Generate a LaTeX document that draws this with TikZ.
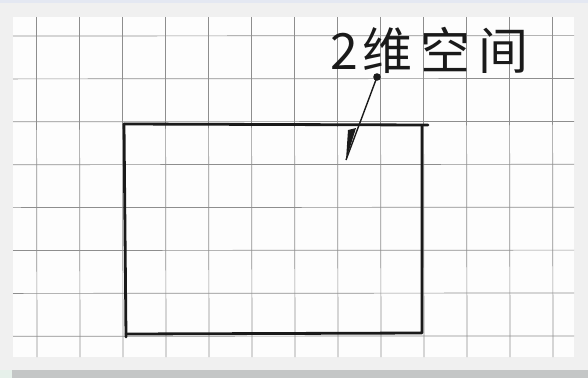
\documentclass[tikz,border=0pt]{standalone}
\usepackage{fontspec}
\newfontfamily\cjk{Noto Sans CJK SC}
\definecolor{bgc}{HTML}{F0F0F0}
\definecolor{topc}{HTML}{E4E8F2}
\definecolor{paperc}{HTML}{FDFDFD}
\definecolor{barc}{HTML}{C4C6C6}
\definecolor{barl}{HTML}{E6F0EA}
\definecolor{gridc}{HTML}{8E8E8E}
\definecolor{inkc}{HTML}{1A1A1A}
\tikzset{
  gridline/.style={gridc, line width=0.7pt},
  inkline/.style={inkc, line width=2.8pt, line cap=round, line join=round},
  pointer/.style={inkc, line width=1.4pt},
  label/.style={inkc, font=\cjk\fontsize{50}{54}\selectfont, inner sep=0pt}
}
\begin{document}
\begin{tikzpicture}[x=1pt, y=-1pt]
\useasboundingbox (0,0) rectangle (588,378);
% background
\fill[bgc] (0,0) rectangle (588,378);
\fill[topc] (0,0) rectangle (588,3);
\fill[paperc] (13,17) rectangle (574,357);
\fill[barc] (12,370) rectangle (588,378);
\fill[barl] (0,370) rectangle (12,378);
% grid
\foreach \k in {0,...,12} {
  \draw[gridline] ({36.4+43.0*\k},17) -- ({36.4+43.0*\k+0.6},357);
}
\foreach \k in {0,...,7} {
  \draw[gridline] (13,{36+42.9*\k}) -- (574,{36+42.9*\k-0.4});
}
% rectangle (2D space)
\coordinate (tl) at (124,124);
\coordinate (tr) at (428,125);
\coordinate (rt) at (422,126);
\coordinate (rb) at (422,333);
\coordinate (bl) at (126,334);
\coordinate (lb) at (126,337);
\draw[inkline] (tl) -- (tr);
\draw[inkline] (rt) -- (rb) -- (bl);
\draw[inkline] (tl) -- (lb);
% label
\node[label, anchor=west] (lab) at (330,50) {2\hspace{5pt}维\hspace{8pt}空\hspace{8pt}间};
% pointer
\coordinate (dot) at (377,77);
\coordinate (tip) at (346,160);
\fill[inkc] (dot) circle (3.8);
\draw[pointer] (dot) -- (tip);
\fill[inkc] (348,130) -- (356,128) -- (tip) -- cycle;
\end{tikzpicture}
\end{document}
